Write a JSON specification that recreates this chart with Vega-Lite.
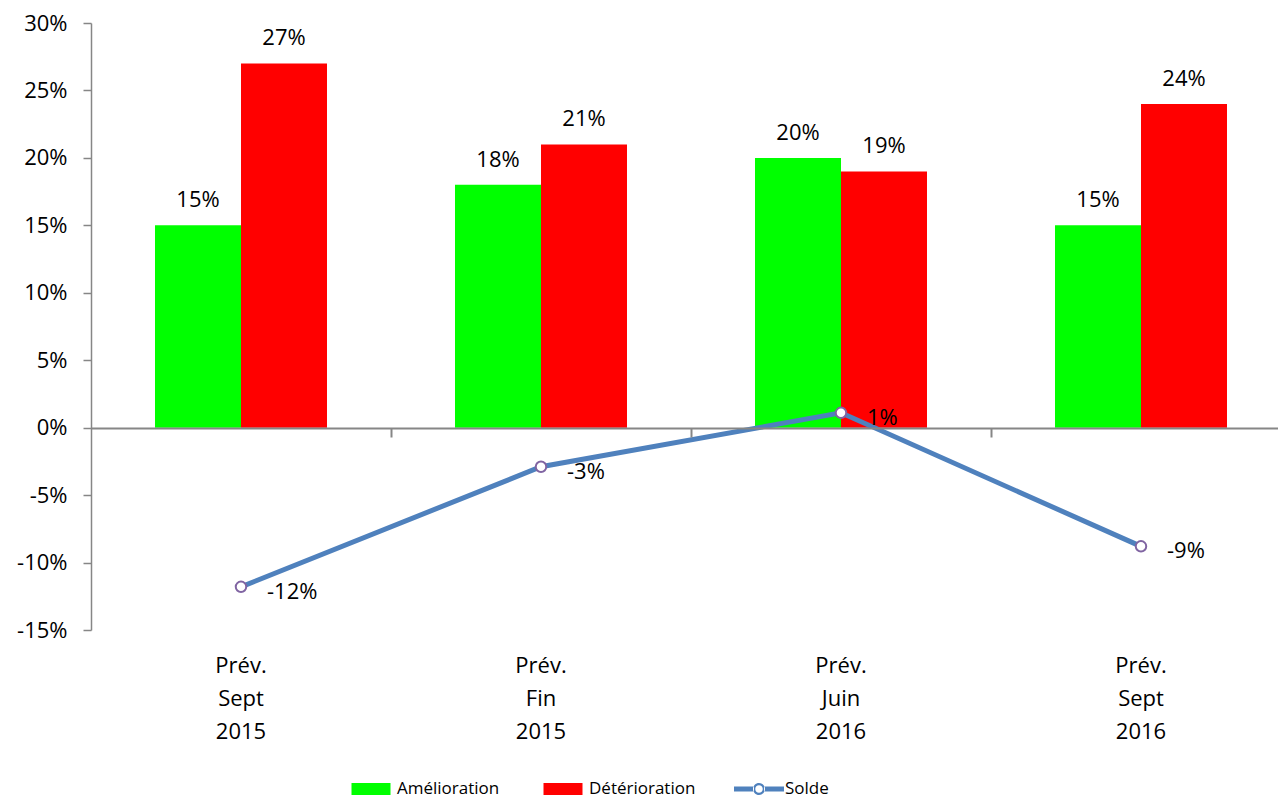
{
  "$schema": "https://vega.github.io/schema/vega-lite/v6.json",
  "autosize": "none",
  "width": 1187,
  "height": 607,
  "padding": {"left": 91, "top": 23, "right": 0, "bottom": 168},
  "background": "white",
  "config": {
    "view": {"stroke": null},
    "font": "Open Sans",
    "text": {"font": "Open Sans", "fontSize": 22, "color": "black"},
    "legend": {"symbolSize": 2500, "symbolStrokeWidth": 0},
    "axisY": {
      "domainColor": "#868686", "domainWidth": 1.5, "tickColor": "#868686", "tickWidth": 1.5,
      "tickSize": 8, "labelPadding": 16, "labelFontSize": 22, "labelColor": "black",
      "labelFont": "Open Sans", "grid": false, "title": null
    },
    "axisX": {"grid": false, "title": null, "labelFont": "Open Sans", "labelFontSize": 22, "labelColor": "black", "labelAngle": 0}
  },
  "data": {"values": [
    {"cat": "Prév.|Sept|2015", "series": "Amélioration", "value": 0.15},
    {"cat": "Prév.|Sept|2015", "series": "Détérioration", "value": 0.27},
    {"cat": "Prév.|Sept|2015", "series": "Solde", "value": -0.118},
    {"cat": "Prév.|Fin|2015", "series": "Amélioration", "value": 0.18},
    {"cat": "Prév.|Fin|2015", "series": "Détérioration", "value": 0.21},
    {"cat": "Prév.|Fin|2015", "series": "Solde", "value": -0.029},
    {"cat": "Prév.|Juin|2016", "series": "Amélioration", "value": 0.20},
    {"cat": "Prév.|Juin|2016", "series": "Détérioration", "value": 0.19},
    {"cat": "Prév.|Juin|2016", "series": "Solde", "value": 0.011},
    {"cat": "Prév.|Sept|2016", "series": "Amélioration", "value": 0.15},
    {"cat": "Prév.|Sept|2016", "series": "Détérioration", "value": 0.24},
    {"cat": "Prév.|Sept|2016", "series": "Solde", "value": -0.088}
  ]},
  "layer": [
    {
      "transform": [{"filter": "datum.series !== 'Solde'"}],
      "layer": [
        {
          "mark": {"type": "bar"},
          "encoding": {
            "x": {"field": "cat", "type": "nominal", "sort": null,
              "scale": {"paddingInner": 0.42667, "paddingOuter": 0.19167, "align": 0.5565},
              "axis": {"orient": "bottom", "domain": false, "ticks": false, "labelPadding": 25, "labelLineHeight": 33, "labelExpr": "split(datum.value, '|')"}},
            "xOffset": {"field": "series", "type": "nominal", "sort": ["Amélioration", "Détérioration"], "scale": {"paddingInner": 0, "paddingOuter": 0}},
            "y": {"field": "value", "type": "quantitative", "scale": {"domain": [-0.15, 0.3], "nice": false, "zero": false},
              "axis": {"values": [-0.15, -0.1, -0.05, 0, 0.05, 0.1, 0.15, 0.2, 0.25, 0.3], "labelExpr": "replace(format(datum.value, '.0%'), '\u2212', '-')"}},
            "color": {"field": "series", "type": "nominal",
              "scale": {"domain": ["Amélioration", "Détérioration", "Solde"], "range": ["#00FF00", "#FF0000", "#4F81BD"]},
              "legend": {"title": null, "orient": "none", "legendX": 255, "legendY": 741, "direction": "horizontal",
                "padding": 0, "labelFontSize": 17, "labelFont": "Open Sans", "labelColor": "black", "labelOffset": 1,
                "columnPadding": 38, "symbolSize": 2500, "symbolStrokeWidth": 0,
                "encode": {"symbols": {"update": {
                  "shape": {"signal": "datum.value === 'Solde' ? 'M-1,-0.1H-0.2V0.1H-1Z M0.2,-0.1H1V0.1H0.2Z M-0.24,0A0.24,0.24 0 1,0 0.24,0A0.24,0.24 0 1,0 -0.24,0Z M-0.15,0A0.15,0.15 0 1,1 0.15,0A0.15,0.15 0 1,1 -0.15,0Z' : 'M-0.78,-0.24H0.78V0.24H-0.78Z'"},
                  "strokeWidth": {"value": 0},
                  "opacity": {"value": 1}
                }}}}}
          }
        },
        {
          "mark": {"type": "text", "baseline": "alphabetic", "dy": -18, "fontSize": 22, "text": {"expr": "replace(format(datum.value, '.0%'), '\u2212', '-')"}},
          "encoding": {
            "x": {"field": "cat", "type": "nominal", "sort": null},
            "xOffset": {"field": "series", "type": "nominal", "sort": ["Amélioration", "Détérioration"]},
            "y": {"field": "value", "type": "quantitative"}
          }
        }
      ]
    },
    {
      "transform": [{"filter": "datum.series === 'Solde'"}],
      "layer": [
        {
          "mark": {"type": "line", "strokeWidth": 5},
          "encoding": {
            "x": {"field": "cat", "type": "nominal", "sort": null,
              "axis": {"orient": "bottom", "offset": -202, "labels": false, "domain": true, "ticks": true, "tickOffset": 150,
                "domainColor": "#868686", "domainWidth": 2, "tickColor": "#868686", "tickWidth": 2, "tickSize": 9, "zindex": 1}},
            "y": {"field": "value", "type": "quantitative"},
            "color": {"field": "series", "type": "nominal"}
          }
        },
        {
          "mark": {"type": "point", "filled": true, "fill": "white", "stroke": "#8064A2", "strokeWidth": 2, "size": 110, "opacity": 1},
          "encoding": {
            "x": {"field": "cat", "type": "nominal", "sort": null},
            "y": {"field": "value", "type": "quantitative"}
          }
        },
        {
          "mark": {"type": "text", "align": "left", "baseline": "alphabetic", "dx": 26, "dy": 12, "fontSize": 22, "text": {"expr": "replace(format(datum.value, '.0%'), '\u2212', '-')"}},
          "encoding": {
            "x": {"field": "cat", "type": "nominal", "sort": null},
            "y": {"field": "value", "type": "quantitative"}
          }
        }
      ]
    }
  ],
  "resolve": {"axis": {"x": "independent"}}
}
